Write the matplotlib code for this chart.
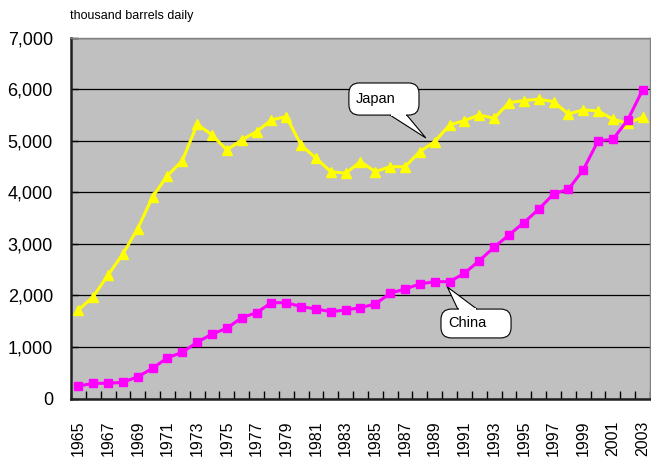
import matplotlib.pyplot as plt
from matplotlib.patches import FancyBboxPatch, Polygon
import numpy as np

# data (thousand barrels daily)
years = list(range(1965, 2004))
japan = [1720, 1977, 2398, 2806, 3300, 3918, 4326, 4618, 5324, 5117,
         4825, 5019, 5181, 5408, 5472, 4922, 4664, 4404, 4372, 4598,
         4404, 4500, 4500, 4793, 4987, 5311, 5395, 5505, 5440, 5744,
         5783, 5810, 5763, 5524, 5602, 5583, 5421, 5344, 5460]
china = [243, 295, 295, 314, 423, 586, 792, 897, 1091, 1252,
         1363, 1569, 1666, 1860, 1860, 1783, 1738, 1686, 1718, 1763,
         1835, 2043, 2126, 2223, 2268, 2268, 2431, 2676, 2936, 3175,
         3414, 3673, 3971, 4062, 4437, 5000, 5033, 5408, 5990]
yticks = [0, 1000, 2000, 3000, 4000, 5000, 6000, 7000]

font = ['Liberation Sans', 'DejaVu Sans']

fig = plt.figure(figsize=(6.51, 4.68), dpi=100)
ax = fig.add_axes([0.109, 0.1485, 0.8895, 0.7705])
ax.set_facecolor("#C0C0C0")

ax.plot(years, japan, color="#FFFF00", lw=2.2, marker="^", ms=7, zorder=3)
ax.plot(years, china, color="#FF00FF", lw=2.2, marker="s", ms=5.5, zorder=3)

ax.set_xlim(years[0] - 0.5, years[-1] + 0.5)
ax.set_ylim(0, 7000)

# grid
ax.set_yticks(yticks)
ax.set_yticklabels([f"{v:,}" for v in yticks], family=font, fontsize=13)
ax.grid(axis='y', color='black', lw=0.9)
ax.set_axisbelow(True)
ax.tick_params(axis='y', direction='in', length=5, width=1, pad=13)

# x: ticks on category boundaries, labels on odd years
ax.set_xticks(np.arange(years[0] - 0.5, years[-1] + 1), minor=True)
ax.set_xticks(years[::2])
ax.set_xticklabels([str(y) for y in years[::2]], rotation=90,
                   family=font, fontsize=11.5)
ax.tick_params(axis='x', which='major', length=0, pad=16)
ax.tick_params(axis='x', which='minor', direction='in', length=6, width=1)

for s in ['left', 'bottom']:
    ax.spines[s].set_color('#202020')
    ax.spines[s].set_linewidth(1.8)
for s in ['top', 'right']:
    ax.spines[s].set_color('#808080')
    ax.spines[s].set_linewidth(1)

fig.text(0.107, 0.952, "thousand barrels daily", family=font,
         fontsize=9, ha='left', va='bottom')


# speech-bubble callouts (box in axes fraction, tip on the data line)
def callout(label, box, base, tip):
    x0, y0, x1, y1 = box
    tx, ty = ax.transAxes.inverted().transform(ax.transData.transform(tip))
    by = y0 if base[2] == 'bottom' else y1
    tail = Polygon([(base[0], by), (tx, ty), (base[1], by)], closed=True,
                   transform=ax.transAxes, fc='white', ec='black', lw=0.8, zorder=5)
    ax.add_patch(tail)
    bb = FancyBboxPatch((x0, y0), x1 - x0, y1 - y0,
                        boxstyle='round,pad=0,rounding_size=0.018',
                        transform=ax.transAxes, fc='white', ec='black', lw=0.8,
                        zorder=6, mutation_aspect=1.6)
    ax.add_patch(bb)
    # cover the seam between box and tail
    ax.plot([base[0] + 0.002, base[1] - 0.002], [by, by], color='white', lw=1.4,
            transform=ax.transAxes, zorder=7, solid_capstyle='butt')
    ax.text(x0 + 0.012, (y0 + y1) / 2, label, transform=ax.transAxes,
            family=font, fontsize=10.5, ha='left', va='center', zorder=8)


callout("Japan", (0.480, 0.786, 0.601, 0.875), (0.551, 0.580, 'bottom'), (1988.4, 5058))
callout("China", (0.639, 0.168, 0.760, 0.248), (0.668, 0.701, 'top'), (1989.85, 2165))

fig.savefig("out.png", dpi=100)
